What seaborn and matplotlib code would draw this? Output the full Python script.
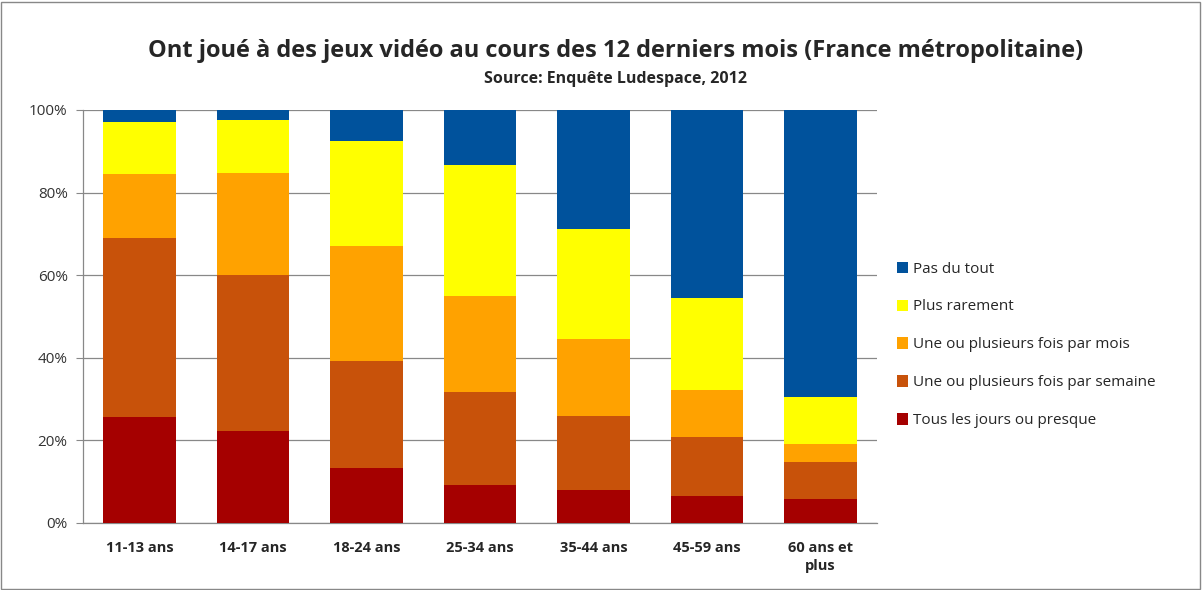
import numpy as np
import pandas as pd
import matplotlib.pyplot as plt
import seaborn as sns
from matplotlib.patches import Patch, Rectangle

# values (percent of each age group)
ages = ['11-13 ans', '14-17 ans', '18-24 ans', '25-34 ans', '35-44 ans', '45-59 ans', '60 ans et\nplus']
tous_les_jours = [25.7, 22.3, 13.3, 9.1, 8.0, 6.5, 5.7]
par_semaine = [43.2, 37.7, 26.0, 22.5, 18.0, 14.2, 9.0]
par_mois = [15.6, 24.8, 27.8, 23.4, 18.6, 11.6, 4.4]
plus_rarement = [12.7, 12.8, 25.5, 31.7, 26.6, 22.1, 11.4]
pas_du_tout = [2.8, 2.4, 7.4, 13.3, 28.8, 45.6, 69.5]

series = [
    ('Tous les jours ou presque', tous_les_jours, '#A50000'),
    ('Une ou plusieurs fois par semaine', par_semaine, '#C8520A'),
    ('Une ou plusieurs fois par mois', par_mois, '#FFA200'),
    ('Plus rarement', plus_rarement, '#FFFF00'),
    ('Pas du tout', pas_du_tout, '#00529C'),
]

df = pd.DataFrame({'age': ages})
running = np.zeros(len(ages))
for name, vals, _ in series:
    running = running + np.array(vals)
    df[name] = running

sns.set_style('white')
plt.rcParams['font.family'] = ['Open Sans', 'DejaVu Sans']

fig = plt.figure(figsize=(12.02, 5.90), dpi=100)
ax = fig.add_axes([0.069, 0.1136, 0.6606, 0.70])

# draw cumulative bars from the top layer down so they stack
for name, _, color in reversed(series):
    sns.barplot(data=df, x='age', y=name, color=color, width=0.64,
                saturation=1, ax=ax, zorder=3, edgecolor='none')

ax.set_ylim(0, 100)
ax.set_xlim(-0.5, len(ages) - 0.5)
ax.set_yticks([0, 20, 40, 60, 80, 100])
ax.set_yticklabels(['0%', '20%', '40%', '60%', '80%', '100%'], fontsize=11, color='#333333')
ax.tick_params(axis='y', length=5, color='#888888', direction='out', pad=6, left=True)
ax.tick_params(axis='x', length=0, pad=13)
for lab in ax.get_xticklabels():
    lab.set_fontweight('bold')
    lab.set_fontsize(10.5)
    lab.set_linespacing(1.4)
ax.set_xlabel('')
ax.set_ylabel('')
ax.grid(axis='y', color='#888888', linewidth=0.9, zorder=0)
for side in ['top', 'right']:
    ax.spines[side].set_visible(False)
for side in ['left', 'bottom']:
    ax.spines[side].set_color('#888888')
    ax.spines[side].set_linewidth(0.9)

handles = [Patch(facecolor=c, edgecolor='none', label=n) for n, _, c in reversed(series)]
fig.legend(handles=handles, loc='upper left', bbox_to_anchor=(0.741, 0.567),
           frameon=False, fontsize=11, handlelength=0.75, handleheight=0.75,
           handletextpad=0.3, labelspacing=1.5, borderaxespad=0)

fig.text(0.512, 0.913, 'Ont joué à des jeux vidéo au cours des 12 derniers mois (France métropolitaine)',
         ha='center', va='center', fontsize=17, fontweight='bold')
fig.text(0.512, 0.866, 'Source: Enquête Ludespace, 2012',
         ha='center', va='center', fontsize=11.5, fontweight='bold')

fig.patches.append(Rectangle((0.001, 0.002), 0.997, 0.995, transform=fig.transFigure,
                             fill=False, edgecolor='#888888', linewidth=1))

fig.savefig('out.png', dpi=100)
